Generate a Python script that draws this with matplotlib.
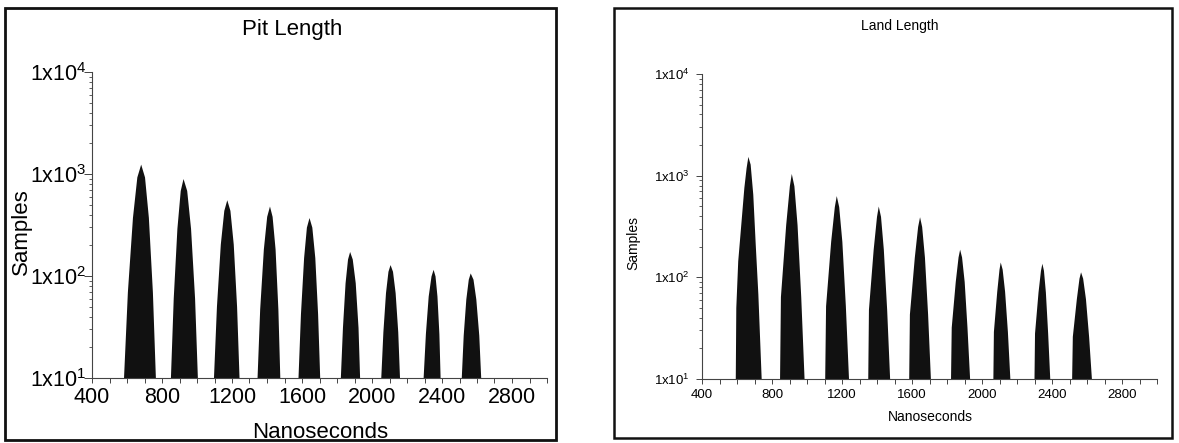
import matplotlib
matplotlib.use('Agg')
import matplotlib.pyplot as plt
from matplotlib.patches import Rectangle
from matplotlib.ticker import FixedLocator, MultipleLocator, LogLocator, NullFormatter

plt.rcParams['font.family'] = ['Liberation Sans', 'DejaVu Sans']
plt.rcParams['mathtext.fontset'] = 'custom'
plt.rcParams['mathtext.rm'] = 'Liberation Sans'

# outline of each histogram peak (nanoseconds, samples)
pit_x = [
    [583, 605, 634, 659, 681, 703, 725, 748, 765],
    [851, 867, 888, 907, 923, 944, 966, 989, 1005],
    [1097, 1114, 1136, 1156, 1173, 1191, 1210, 1229, 1243],
    [1346, 1361, 1382, 1401, 1417, 1432, 1449, 1465, 1476],
    [1580, 1594, 1612, 1628, 1643, 1659, 1676, 1692, 1704],
    [1822, 1834, 1849, 1863, 1875, 1890, 1907, 1923, 1932],
    [2053, 2065, 2080, 2094, 2106, 2120, 2135, 2150, 2160],
    [2295, 2308, 2324, 2340, 2352, 2363, 2374, 2385, 2392],
    [2513, 2524, 2539, 2553, 2564, 2580, 2596, 2613, 2624],
]
pit_y = [
    [10, 69, 371, 925, 1236, 925, 371, 69, 10],
    [10, 60, 290, 682, 893, 682, 290, 60, 10],
    [10, 50, 203, 435, 553, 435, 203, 50, 10],
    [10, 47, 182, 380, 480, 380, 182, 47, 10],
    [10, 42, 150, 298, 370, 298, 150, 42, 10],
    [10, 31, 85, 145, 172, 145, 85, 31, 10],
    [10, 28, 68, 110, 128, 110, 68, 28, 10],
    [10, 27, 63, 99, 115, 99, 63, 27, 10],
    [10, 26, 59, 92, 106, 92, 59, 26, 10],
]

land_x = [
    [593, 596, 607, 623, 642, 655, 665, 678, 693, 707, 722, 741],
    [846, 851, 881, 902, 913, 928, 946, 967, 986],
    [1104, 1109, 1138, 1159, 1170, 1184, 1202, 1222, 1240],
    [1350, 1354, 1381, 1400, 1410, 1423, 1439, 1458, 1475],
    [1584, 1588, 1616, 1635, 1646, 1658, 1674, 1692, 1708],
    [1823, 1827, 1850, 1866, 1875, 1886, 1901, 1917, 1932],
    [2065, 2068, 2087, 2100, 2107, 2118, 2132, 2148, 2162],
    [2300, 2303, 2323, 2337, 2345, 2354, 2365, 2378, 2390],
    [2515, 2519, 2542, 2557, 2566, 2578, 2594, 2612, 2628],
]
land_y = [
    [10, 50, 144, 306, 757, 1190, 1530, 1283, 650, 210, 68, 10],
    [10, 64, 326, 787, 1040, 787, 326, 64, 10],
    [10, 52, 223, 491, 630, 491, 223, 52, 10],
    [10, 48, 187, 393, 497, 393, 187, 48, 10],
    [10, 43, 156, 313, 390, 313, 156, 43, 10],
    [10, 32, 90, 157, 187, 157, 90, 32, 10],
    [10, 29, 72, 119, 140, 119, 72, 29, 10],
    [10, 28, 71, 116, 136, 116, 71, 28, 10],
    [10, 26, 61, 97, 112, 97, 61, 26, 10],
]

x_ticks = [400, 800, 1200, 1600, 2000, 2400, 2800]
y_ticks = [10, 100, 1000, 10000]
y_labels = [r'1x10$^{\mathregular{1}}$', r'1x10$^{\mathregular{2}}$',
            r'1x10$^{\mathregular{3}}$', r'1x10$^{\mathregular{4}}$']

W, H = 1179, 443
fig = plt.figure(figsize=(W / 100, H / 100), dpi=100)


def panel(rect, xs, ys, fs, ymaj, ypad, xpad):
    ax = fig.add_axes(rect)
    for x, y in zip(xs, ys):
        ax.fill(x, y, color='#111111', lw=0)
    ax.set_yscale('log')
    ax.set_xlim(400, 3000)
    ax.set_ylim(10, 10000)
    ax.xaxis.set_major_locator(FixedLocator(x_ticks))
    ax.xaxis.set_minor_locator(MultipleLocator(100))
    ax.set_xticklabels([str(t) for t in x_ticks])
    ax.yaxis.set_major_locator(FixedLocator(y_ticks))
    ax.set_yticklabels(y_labels)
    ax.yaxis.set_minor_locator(LogLocator(base=10, subs=range(2, 10)))
    ax.yaxis.set_minor_formatter(NullFormatter())
    for s in ['top', 'right']:
        ax.spines[s].set_visible(False)
    for s in ['bottom', 'left']:
        ax.spines[s].set_linewidth(0.8)
        ax.spines[s].set_color('#444444')
    ax.tick_params(axis='x', which='both', direction='out', length=3.4,
                   width=0.7, color='#444444', labelsize=fs, pad=xpad)
    ax.tick_params(axis='y', which='major', direction='out', length=ymaj,
                   width=0.7, color='#444444', labelsize=fs, pad=ypad)
    ax.tick_params(axis='y', which='minor', direction='out', length=2.2,
                   width=0.6, color='#444444')
    return ax


panel([92 / W, 1 - 378 / H, 455 / W, 306 / H], pit_x, pit_y, 15.5, 6, -2, 3)
panel([702 / W, 1 - 379 / H, 455 / W, 305 / H], land_x, land_y, 9.5, 4, 5, 4)

# left panel texts
fig.text(292 / W, 1 - 30 / H, 'Pit Length', ha='center', va='center', fontsize=16)
fig.text(320 / W, 1 - 422 / H, 'Nanoseconds', ha='center', va='top', fontsize=16)
fig.text(21 / W, 1 - 232 / H, 'Samples', ha='center', va='center',
         rotation=90, fontsize=16)

# right panel texts
fig.text(900 / W, 1 - 26 / H, 'Land Length', ha='center', va='center', fontsize=10)
fig.text(930 / W, 1 - 417 / H, 'Nanoseconds', ha='center', va='center', fontsize=10)
fig.text(633 / W, 1 - 243 / H, 'Samples', ha='center', va='center',
         rotation=90, fontsize=10)

# panel frames
fig.add_artist(Rectangle((5 / W, 1 - 440 / H), 551 / W, 432 / H, transform=fig.transFigure,
                         fill=False, lw=2.0, edgecolor='#111111', zorder=10))
fig.add_artist(Rectangle((614 / W, 1 - 438 / H), 558 / W, 430 / H, transform=fig.transFigure,
                         fill=False, lw=1.8, edgecolor='#111111', zorder=10))

fig.savefig('out.png', dpi=100)
